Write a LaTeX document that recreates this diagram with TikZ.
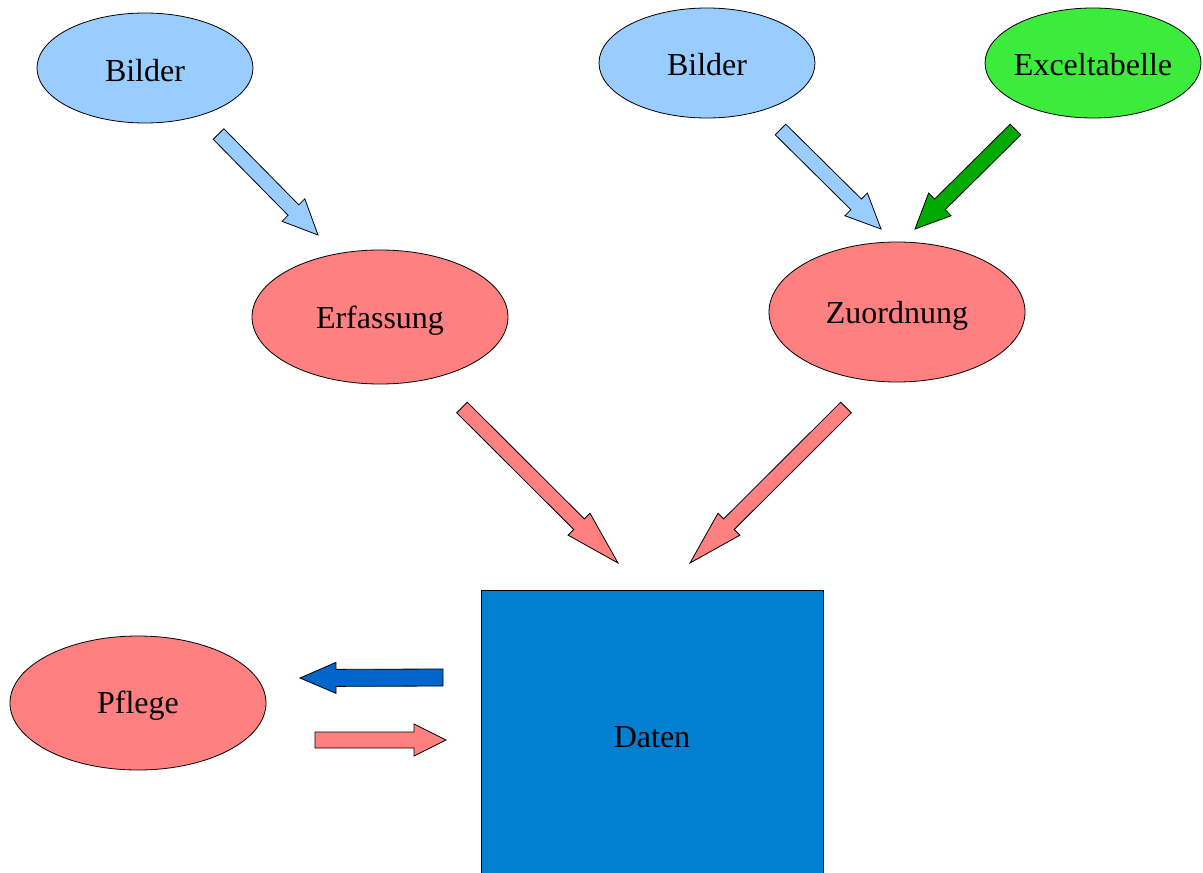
\documentclass[tikz,border=0pt]{standalone}
\usepackage{fontspec}
\setmainfont{Liberation Serif}
\usetikzlibrary{calc}
\definecolor{lblue}{RGB}{153,204,255}
\definecolor{lgreen}{RGB}{61,235,61}
\definecolor{pinkred}{RGB}{255,128,128}
\definecolor{dgreen}{RGB}{0,170,0}
\definecolor{darrow}{RGB}{0,102,204}
\definecolor{datenblue}{RGB}{0,128,207}
\newcommand\blockarr[6]{%
  \coordinate (hb) at ($(#3)!#6!(#2)$);
  \draw[#1] ($(#2)!#4!90:(#3)$) -- ($(hb)!#4!90:(#3)$) -- ($(hb)!#5!90:(#3)$)
    -- (#3) -- ($(hb)!#5!-90:(#3)$) -- ($(hb)!#4!-90:(#3)$) -- ($(#2)!#4!-90:(#3)$) -- cycle;
}
\begin{document}
\begin{tikzpicture}[x=0.5pt,y=-0.5pt,
  every node/.style={font=\fontsize{16}{19}\selectfont},
  barr/.style={draw=black,thin,line join=miter}]
\useasboundingbox (0,0) rectangle (1203,872);
% ellipses
\filldraw[fill=lblue,draw=black,thin] (145,68) ellipse [x radius=108,y radius=55];
\node (b1) at (145,71) {Bilder};
\filldraw[fill=lblue,draw=black,thin] (707,63) ellipse [x radius=108,y radius=55];
\node (b2) at (707,65) {Bilder};
\filldraw[fill=lgreen,draw=black,thin] (1093,63) ellipse [x radius=108,y radius=55];
\node (ex) at (1093,65) {Exceltabelle};
\filldraw[fill=pinkred,draw=black,thin] (380,317) ellipse [x radius=128,y radius=67];
\node (erf) at (380,321) {Erfassung};
\filldraw[fill=pinkred,draw=black,thin] (897,312) ellipse [x radius=128,y radius=70];
\node (zu) at (897,316) {Zuordnung};
\filldraw[fill=pinkred,draw=black,thin] (138,703) ellipse [x radius=128,y radius=67];
\node (pf) at (138,706) {Pflege};
% Daten box
\filldraw[fill=datenblue,draw=black,thin] (481,590) rectangle (823,876);
\node (da) at (652,737) {Daten};
% arrow coordinates
\coordinate (a1t) at (218.5,134); \coordinate (a1h) at (318,235);
\coordinate (a2t) at (780.5,129.5); \coordinate (a2h) at (881,229);
\coordinate (a3t) at (1015.5,129.5); \coordinate (a3h) at (915,229);
\coordinate (a4t) at (462,407.5); \coordinate (a4h) at (618,563);
\coordinate (a5t) at (846,407.5); \coordinate (a5h) at (690,563);
\coordinate (a6t) at (443,677.5); \coordinate (a6h) at (300,678);
\coordinate (a7t) at (315,740); \coordinate (a7h) at (446,740);
\blockarr{barr,fill=lblue}{a1t}{a1h}{3.75pt}{8pt}{17.5pt}
\blockarr{barr,fill=lblue}{a2t}{a2h}{3.75pt}{8pt}{17.5pt}
\blockarr{barr,fill=dgreen}{a3t}{a3h}{3.75pt}{8pt}{17.5pt}
\blockarr{barr,fill=pinkred}{a4t}{a4h}{3.75pt}{7.75pt}{27.5pt}
\blockarr{barr,fill=pinkred}{a5t}{a5h}{3.75pt}{7.75pt}{27.5pt}
\blockarr{barr,fill=darrow}{a6t}{a6h}{4.25pt}{7.75pt}{18pt}
\blockarr{barr,fill=pinkred}{a7t}{a7h}{4pt}{8pt}{16pt}
\end{tikzpicture}
\end{document}
